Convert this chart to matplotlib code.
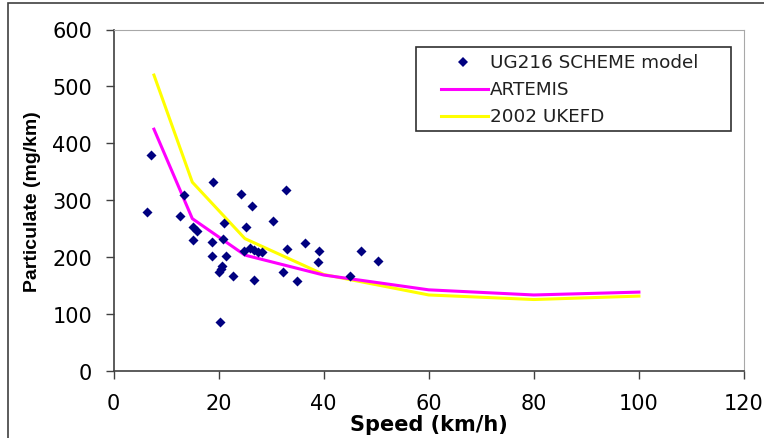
import numpy as np
import matplotlib.pyplot as plt
from matplotlib.patches import Rectangle
from matplotlib.lines import Line2D

plt.rcParams['font.family'] = ['DejaVu Sans']

W, H = 764, 439

# UG216 SCHEME model points
speed_pts = [6.3, 7.2, 13.5, 12.7, 15.1, 15.9, 15.2, 19.0, 18.7, 18.7,
             21.1, 20.9, 21.5, 20.6, 20.1, 20.4, 22.7, 20.3, 24.3, 26.4,
             25.2, 24.8, 25.9, 26.8, 27.5, 28.3, 26.7, 30.4, 32.8, 33.1,
             32.2, 35.0, 36.4, 39.2, 38.9, 45.0, 47.1, 50.4]
pm_pts = [279, 380, 310, 272, 254, 246, 231, 332, 227, 202,
          261, 232, 202, 185, 175, 180, 167, 86, 312, 290,
          253, 212, 216, 213, 210, 209, 160, 264, 319, 215,
          175, 158, 225, 211, 191, 167, 211, 193]

# curves
speed_line = [7.7, 15, 25, 40, 60, 80, 100]
artemis = [425, 268, 204, 169, 143, 134, 139]
ukefd = [520, 332, 233, 170, 134, 126, 132]

labels = ['UG216 SCHEME model', 'ARTEMIS', '2002 UKEFD']
navy, pink, yellow = '#000080', '#ff00ff', '#ffff00'


def fx(p):
    return p / W


def fy(p):
    return 1 - p / H


fig = plt.figure(figsize=(W / 100, H / 100), dpi=100)
ax = fig.add_axes([fx(113.5), fy(372.3), (744 - 113.5) / W, (372.3 - 30.5) / H])

ax.plot(speed_line, ukefd, color=yellow, lw=2.2, zorder=2)
ax.plot(speed_line, artemis, color=pink, lw=2.2, zorder=3)
ax.scatter(speed_pts, pm_pts, marker='D', s=26, color=navy, zorder=4, linewidths=0)

ax.set_xlim(0, 120)
ax.set_ylim(0, 600)
ax.set_xticks(np.arange(0, 121, 20))
ax.set_yticks(np.arange(0, 601, 100))
ax.tick_params(direction='out', length=6, width=1, color='#404040', labelsize=15)
ax.tick_params(axis='x', pad=9.5)
ax.tick_params(axis='y', pad=9.5)

for s in ['top', 'right']:
    ax.spines[s].set_color('#a8a8a8')
for s in ['left', 'bottom']:
    ax.spines[s].set_color('#404040')
    ax.spines[s].set_linewidth(1.2)

ax.set_xlabel('Speed (km/h)', fontsize=15, fontweight='bold')
ax.xaxis.set_label_coords(0.5, -(415 - 372.3) / 341.8)
ax.set_ylabel('Particulate (mg/km)', fontsize=14, fontweight='bold',
              family='Liberation Sans')
ax.yaxis.set_label_coords((41.5 - 113.5) / 630.5, 0.5)

# legend box
fig.patches.append(Rectangle((fx(415.6), fy(132.3)), (730.8 - 415.6) / W, (132.3 - 48.3) / H,
                             transform=fig.transFigure, fill=False,
                             edgecolor='#303030', lw=1.2, zorder=5))
rows = [63, 90, 116.5]
fig.add_artist(Line2D([fx(463.5)], [fy(rows[0])], marker='D', ls='none', color=navy,
                      markersize=5.5, markeredgewidth=0, transform=fig.transFigure))
fig.add_artist(Line2D([fx(441), fx(488)], [fy(rows[1])] * 2, color=pink, lw=2.2,
                      transform=fig.transFigure))
fig.add_artist(Line2D([fx(441), fx(488)], [fy(rows[2])] * 2, color=yellow, lw=2.2,
                      transform=fig.transFigure))
for r, lab in zip(rows, labels):
    fig.text(fx(490), fy(r), lab, fontsize=13.2, va='center', ha='left', color='#202020')

# outer chart frame
fig.patches.append(Rectangle((fx(8), -0.1), 1.0, fy(4.3) + 0.1, transform=fig.transFigure,
                             fill=False, edgecolor='#404040', lw=1.2))

fig.savefig('out.png', dpi=100)
